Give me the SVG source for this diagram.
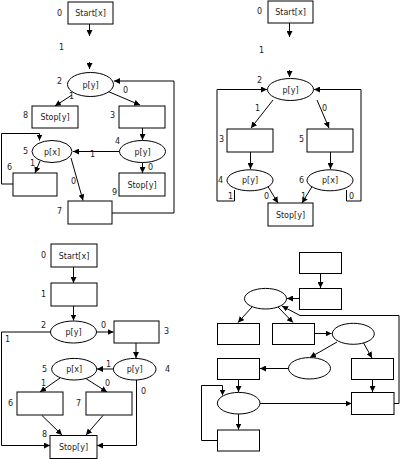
<svg xmlns="http://www.w3.org/2000/svg" width="400" height="459" viewBox="0 0 400 459">
<defs>
<marker id="ah" markerWidth="6" markerHeight="6" refX="6" refY="3" orient="auto" markerUnits="userSpaceOnUse"><path d="M0,0 L6,3 L0,6 z" fill="#000"/></marker>
<style>
rect,ellipse{fill:#fff;stroke:#000;stroke-width:1}
.c path{fill:none;stroke:#000;stroke-width:1}
.c path.a{marker-end:url(#ah)}
text{font-family:"DejaVu Sans","Verdana",sans-serif;font-size:8px;fill:#222}
text.m{text-anchor:middle}
</style>
</defs>
<rect x="0" y="0" width="400" height="459" style="fill:#fff;stroke:none"/>

<!-- Connectors -->
<g class="c" id="connectors">
<!-- Q1 -->
<path class="a" d="M89.5,24 V36"/>
<path class="a" d="M89.5,62 V69"/>
<path class="a" d="M112,213 H174 V81 H114"/>
<path class="a" d="M107,91 L140,105"/>
<path class="a" d="M72,95 L55,106"/>
<path class="a" d="M142.5,128 V140"/>
<path class="a" d="M119.5,151.5 H73"/>
<path class="a" d="M142.5,162.5 V173"/>
<path class="a" d="M40,161 L35,173"/>
<path class="a" d="M13,184 H1.5 V133.5 H39.5 V140.5"/>
<path class="a" d="M71,158 L83,200.5"/>
<!-- Q2 -->
<path class="a" d="M289.5,23 V37"/>
<path class="a" d="M289.5,70 V77"/>
<path class="a" d="M234.5,190 V201 H217 V89.5 H267"/>
<path class="a" d="M346.5,190 V201 H361 V89.5 H314"/>
<path class="a" d="M273,100 L251,128"/>
<path class="a" d="M317,100 L329,128"/>
<path class="a" d="M250.5,152 V169"/>
<path class="a" d="M330.5,152 V169"/>
<path class="a" d="M267,185 L278,203"/>
<path class="a" d="M313,185 L302,203"/>
<!-- Q3 -->
<path class="a" d="M73.5,267 V283"/>
<path class="a" d="M73.5,306 V320.5"/>
<path class="a" d="M96.5,332 H113.5"/>
<path class="a" d="M50.5,332 H1.5 V445.5 H50"/>
<path class="a" d="M136,343 V358"/>
<path class="a" d="M113.5,369 H97"/>
<path class="a" d="M136.5,380 V445.5 H97"/>
<path class="a" d="M60,378 L40,392"/>
<path class="a" d="M85,378 L107,392"/>
<path class="a" d="M42,415.5 L62,435"/>
<path class="a" d="M103,415.5 L86,435"/>
<!-- Q4 -->
<path class="a" d="M320.5,273.5 V288"/>
<path class="a" d="M299.5,298.5 H287"/>
<path class="a" d="M394,403.5 H399 V315.5 H300 L282,306"/>
<path class="a" d="M252,307 L238,322.5"/>
<path class="a" d="M278,307 L293,322.5"/>
<path class="a" d="M314.5,333.5 H331.5"/>
<path class="a" d="M337,342 L310,357.5"/>
<path class="a" d="M363,342 L372,358"/>
<path class="a" d="M288.5,368.5 H260"/>
<path class="a" d="M238.5,379.5 V392"/>
<path class="a" d="M372.5,379.5 V392"/>
<path class="a" d="M260,403.5 H351.5"/>
<path class="a" d="M238.5,414 V429.5"/>
<path class="a" d="M217.5,440.5 H201.5 V385.5 H222.5 V395.5"/>
</g>

<!-- Connector labels -->
<g id="edge-labels">
<text x="59" y="50">1</text>
<text x="123" y="93">0</text>
<text x="69" y="99">1</text>
<text x="90" y="157">1</text>
<text x="148" y="170">0</text>
<text x="30" y="166">1</text>
<text x="71" y="184">0</text>
<text x="259" y="53">1</text>
<text x="255" y="111">1</text>
<text x="322" y="111">0</text>
<text x="228" y="199">1</text>
<text x="349" y="199">0</text>
<text x="264" y="199">0</text>
<text x="301" y="199">1</text>
<text x="5" y="342">1</text>
<text x="101" y="328">0</text>
<text x="106" y="367">1</text>
<text x="141" y="394">0</text>
<text x="41" y="386">1</text>
<text x="105" y="386">0</text>
</g>

<!-- Q1 nodes -->
<g id="q1n0"><rect x="68" y="2" width="45" height="22"/><text class="m" x="90.5" y="16">Start[x]</text><text x="57" y="16">0</text></g>
<g id="q1n2"><ellipse cx="90.5" cy="84.5" rx="23" ry="12"/><text class="m" x="90.5" y="87.5">p[y]</text><text x="57" y="84">2</text></g>
<g id="q1n8"><rect x="32" y="106" width="46" height="22"/><text class="m" x="55" y="120">Stop[y]</text><text x="23" y="118">8</text></g>
<g id="q1n3"><rect x="119" y="106" width="46" height="22"/><text x="110" y="118">3</text></g>
<g id="q1n4"><ellipse cx="142.5" cy="151.5" rx="23" ry="11"/><text class="m" x="142.5" y="154.5">p[y]</text><text x="115" y="144">4</text></g>
<g id="q1n5"><ellipse cx="52" cy="151.5" rx="20" ry="11"/><text class="m" x="52" y="154.5">p[x]</text><text x="23" y="154">5</text></g>
<g id="q1n9"><rect x="119" y="173" width="46" height="23"/><text class="m" x="142" y="187.5">Stop[y]</text><text x="112" y="195">9</text></g>
<g id="q1n6"><rect x="13" y="173" width="44" height="23"/><text x="7" y="170">6</text></g>
<g id="q1n7"><rect x="68" y="201" width="44" height="23"/><text x="57" y="214">7</text></g>

<!-- Q2 nodes -->
<g id="q2n0"><rect x="268" y="1" width="45" height="22"/><text class="m" x="290.5" y="15">Start[x]</text><text x="257" y="14">0</text></g>
<g id="q2n2"><ellipse cx="290.5" cy="89.5" rx="23" ry="11"/><text class="m" x="290.5" y="92.5">p[y]</text><text x="257" y="83">2</text></g>
<g id="q2n3"><rect x="227" y="129" width="46" height="23"/><text x="219" y="142">3</text></g>
<g id="q2n5"><rect x="307" y="129" width="46" height="23"/><text x="299" y="142">5</text></g>
<g id="q2n4"><ellipse cx="250" cy="180.3" rx="23" ry="10.5"/><text class="m" x="250" y="183.3">p[y]</text><text x="218" y="183">4</text></g>
<g id="q2n6"><ellipse cx="330" cy="180.3" rx="23" ry="10.5"/><text class="m" x="330" y="183.3">p[x]</text><text x="299" y="183">6</text></g>
<g id="q2stop"><rect x="268" y="203" width="45" height="23"/><text class="m" x="290.5" y="217.5">Stop[y]</text></g>

<!-- Q3 nodes -->
<g id="q3n0"><rect x="51" y="244" width="46" height="23"/><text class="m" x="74" y="258.5">Start[x]</text><text x="41" y="258">0</text></g>
<g id="q3n1"><rect x="51" y="283" width="46" height="23"/><text x="41" y="297">1</text></g>
<g id="q3n2"><ellipse cx="73.5" cy="332" rx="23" ry="11"/><text class="m" x="73.5" y="335">p[y]</text><text x="41" y="328">2</text></g>
<g id="q3n3"><rect x="114" y="321" width="45" height="22"/><text x="164" y="334">3</text></g>
<g id="q3n4"><ellipse cx="134.7" cy="369.2" rx="21.3" ry="10.8"/><text class="m" x="134.7" y="372.2">p[y]</text><text x="165" y="372">4</text></g>
<g id="q3n5"><ellipse cx="74.2" cy="369.2" rx="22.5" ry="10.8"/><text class="m" x="74.2" y="372.2">p[x]</text><text x="42" y="372">5</text></g>
<g id="q3n6"><rect x="17" y="392" width="46" height="23"/><text x="8" y="406">6</text></g>
<g id="q3n7"><rect x="86" y="392" width="46" height="23"/><text x="76" y="406">7</text></g>
<g id="q3n8"><rect x="50" y="435.5" width="47" height="23"/><text class="m" x="73.5" y="450">Stop[y]</text><text x="42" y="437">8</text></g>

<!-- Q4 nodes -->
<g id="q4a"><rect x="299.5" y="252.5" width="42" height="21"/></g>
<g id="q4b"><rect x="299.5" y="288.5" width="42" height="21"/></g>
<g id="q4e1"><ellipse cx="265.5" cy="298.7" rx="21" ry="10.3"/></g>
<g id="q4c1"><rect x="217.5" y="323.5" width="42" height="21"/></g>
<g id="q4c2"><rect x="272.5" y="323.5" width="42" height="21"/></g>
<g id="q4e2"><ellipse cx="353.3" cy="333.8" rx="21" ry="10.5"/></g>
<g id="q4e3"><ellipse cx="309.5" cy="368.3" rx="21" ry="10.7"/></g>
<g id="q4d1"><rect x="217.5" y="358.5" width="42" height="21"/></g>
<g id="q4d2"><rect x="351.5" y="358.5" width="42" height="21"/></g>
<g id="q4e4"><ellipse cx="238.7" cy="403.2" rx="21.3" ry="10.8"/></g>
<g id="q4r2"><rect x="351.5" y="392.5" width="42.5" height="22"/></g>
<g id="q4f"><rect x="217.5" y="430" width="42" height="21"/></g>
</svg>
